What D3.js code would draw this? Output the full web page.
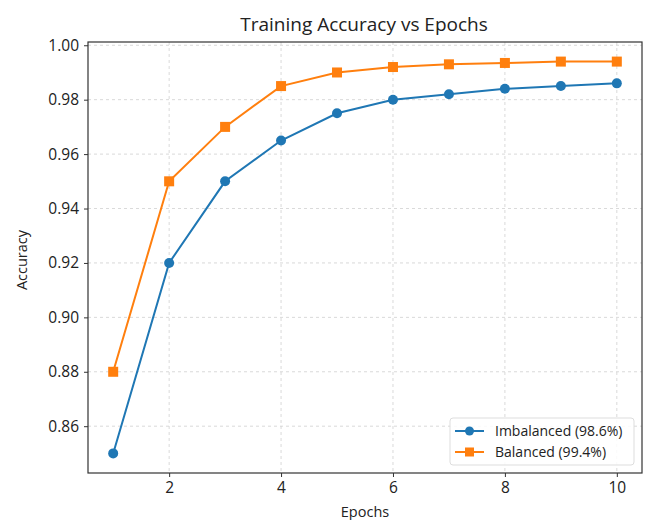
<!DOCTYPE html>
<html>
<head>
<meta charset="utf-8">
<script src="https://cdn.jsdelivr.net/npm/d3@7"></script>
<style>
  body { margin: 0; background: #fff; }
  text { font-family: "Open Sans", "Noto Sans", sans-serif; fill: #222; }
</style>
</head>
<body>
<div id="chart"></div>
<script>
const epochs = [1, 2, 3, 4, 5, 6, 7, 8, 9, 10];
const imbalanced = [0.85, 0.92, 0.95, 0.965, 0.975, 0.98, 0.982, 0.984, 0.985, 0.986];
const balanced = [0.88, 0.95, 0.97, 0.985, 0.99, 0.992, 0.993, 0.9935, 0.994, 0.994];
const xTicks = [2, 4, 6, 8, 10];
const yTicks = [0.86, 0.88, 0.90, 0.92, 0.94, 0.96, 0.98, 1.00];
const seriesNames = ["Imbalanced (98.6%)", "Balanced (99.4%)"];
const colors = ["#1f77b4", "#ff7f0e"];

const width = 646, height = 520;
const margin = { top: 42, right: 4, bottom: 47, left: 88 };

const svg = d3.select("#chart").append("svg")
  .attr("width", width)
  .attr("height", height);

const x = d3.scaleLinear().domain([0.55, 10.45]).range([margin.left, width - margin.right]);
const y = d3.scaleLinear().domain([0.8428, 1.0012]).range([height - margin.bottom, margin.top]);

// grid
const grid = svg.append("g").attr("stroke", "#cfcfcf").attr("stroke-dasharray", "3,3").attr("stroke-width", 0.8);
grid.selectAll(".gx").data(xTicks).enter().append("line")
  .attr("x1", d => x(d)).attr("x2", d => x(d))
  .attr("y1", margin.top).attr("y2", height - margin.bottom);
grid.selectAll(".gy").data(yTicks).enter().append("line")
  .attr("y1", d => y(d)).attr("y2", d => y(d))
  .attr("x1", margin.left).attr("x2", width - margin.right);

// axes
const xAxis = svg.append("g")
  .attr("transform", "translate(0," + (height - margin.bottom) + ")")
  .call(d3.axisBottom(x).tickValues(xTicks).tickSize(4).tickPadding(5).tickFormat(d3.format("d")));
const yAxis = svg.append("g")
  .attr("transform", "translate(" + margin.left + ",0)")
  .call(d3.axisLeft(y).tickValues(yTicks).tickSize(4).tickPadding(5).tickFormat(d3.format(".2f")));
[xAxis, yAxis].forEach(a => {
  a.select(".domain").remove();
  a.selectAll(".tick line").attr("stroke", "#333");
  a.selectAll(".tick text").style("font-size", "15.5px").attr("fill", "#222");
});

// frame
svg.append("rect")
  .attr("x", margin.left).attr("y", margin.top)
  .attr("width", width - margin.left - margin.right)
  .attr("height", height - margin.top - margin.bottom)
  .attr("fill", "none").attr("stroke", "#333").attr("stroke-width", 1.2);

// series
const line = d3.line().x((d, i) => x(epochs[i])).y(d => y(d));
[imbalanced, balanced].forEach((vals, s) => {
  svg.append("path").datum(vals)
    .attr("d", line).attr("fill", "none")
    .attr("stroke", colors[s]).attr("stroke-width", 2);
  if (s === 0) {
    svg.selectAll(".m0").data(vals).enter().append("circle")
      .attr("cx", (d, i) => x(epochs[i])).attr("cy", d => y(d))
      .attr("r", 5).attr("fill", colors[s]);
  } else {
    svg.selectAll(".m1").data(vals).enter().append("rect")
      .attr("x", (d, i) => x(epochs[i]) - 5).attr("y", d => y(d) - 5)
      .attr("width", 10).attr("height", 10).attr("fill", colors[s]);
  }
});

// titles
svg.append("text").attr("x", 364).attr("y", 31).attr("text-anchor", "middle")
  .style("font-size", "19px").text("Training Accuracy vs Epochs");
svg.append("text").attr("x", 365).attr("y", 517).attr("text-anchor", "middle")
  .style("font-size", "14.5px").text("Epochs");
svg.append("text").attr("transform", "translate(27,260) rotate(-90)").attr("text-anchor", "middle")
  .style("font-size", "14.5px").text("Accuracy");

// legend
const lg = svg.append("g").attr("transform", "translate(450,418)");
lg.append("rect").attr("width", 184).attr("height", 47).attr("rx", 3)
  .attr("fill", "#fff").attr("fill-opacity", 0.85).attr("stroke", "#ddd");
seriesNames.forEach((name, s) => {
  const yy = 13 + s * 21;
  lg.append("line").attr("x1", 5).attr("x2", 34).attr("y1", yy).attr("y2", yy)
    .attr("stroke", colors[s]).attr("stroke-width", 2);
  if (s === 0) lg.append("circle").attr("cx", 19.5).attr("cy", yy).attr("r", 4.5).attr("fill", colors[s]);
  else lg.append("rect").attr("x", 15).attr("y", yy - 4.5).attr("width", 9).attr("height", 9).attr("fill", colors[s]);
  lg.append("text").attr("x", 45).attr("y", yy + 5).style("font-size", "14px").text(name);
});
</script>
</body>
</html>
